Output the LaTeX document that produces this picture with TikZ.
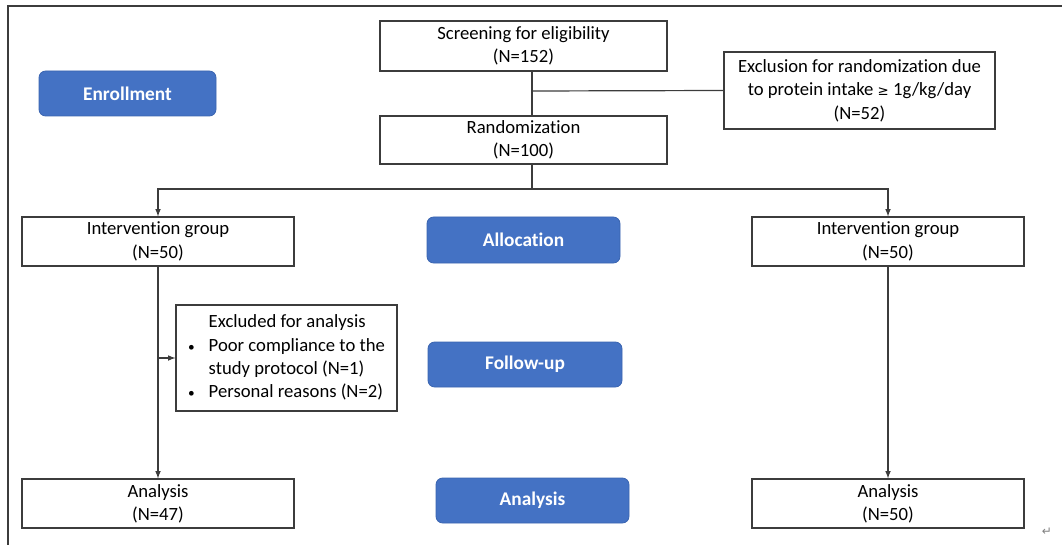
\documentclass[tikz,border=0pt]{standalone}
\usepackage{fontspec}
\setmainfont{Carlito}[Ligatures=NoCommon]
\newfontfamily\symfont{DejaVu Sans}
\usepackage{tikz}

\definecolor{stageblue}{HTML}{4472C4}
\definecolor{stageedge}{HTML}{3A64B0}
\definecolor{linegray}{HTML}{3C3C3C}

\tikzset{
  flowbox/.style={draw=linegray,line width=0.9pt,fill=white,align=center,inner sep=0pt,
    font=\fontsize{14}{17.5}\selectfont},
  stage/.style={draw=stageedge,line width=0.6pt,fill=stageblue,rounded corners=5pt,text=white,
    align=center,inner sep=0pt,font=\fontsize{14.5}{17}\selectfont\bfseries},
  link/.style={draw=linegray,line width=0.9pt},
}
\newcommand{\smallbul}{{\fontsize{10}{10}\selectfont\textbullet}}

\begin{document}
\begin{tikzpicture}[x=0.75pt,y=0.75pt,yscale=-1,xscale=1]
\useasboundingbox (0,0) rectangle (1062,545);

%Frame lines
\draw [linegray,line width=0.8pt] (8,545) -- (8,6) -- (1062,6) ;

%Shape: Rectangle [screening]
\node [flowbox,minimum width=215.25pt,minimum height=37.5pt] (scr) at (523.5,46) {Screening for eligibility\\(N=152)};
%Shape: Rectangle [randomization]
\node [flowbox,minimum width=215.25pt,minimum height=36pt] (rand) at (523.5,140) {Randomization\\(N=100)};
%Shape: Rectangle [exclusion]
\node [flowbox,minimum width=203.25pt,minimum height=57.75pt] (excl) at (859.5,90.5) {Exclusion for randomization due\\to protein intake {\symfont\fontsize{10}{12}\selectfont≥} 1g/kg/day\\(N=52)};
%Shape: Rectangle [groups]
\node [flowbox,minimum width=204pt,minimum height=36.75pt] (intL) at (158,241.5) {Intervention group\\(N=50)};
\node [flowbox,minimum width=204pt,minimum height=36.75pt] (intR) at (888,241.5) {Intervention group\\(N=50)};
%Shape: Rectangle [excluded]
\node [flowbox,minimum width=165.75pt,minimum height=79.5pt] (exA) at (286.5,358) {%
  \begin{tabular}{@{}l@{\hspace{10.5pt}}l@{}}
  & Excluded for analysis\\
  \smallbul & Poor compliance to the\\
  & study protocol (N=1)\\
  \smallbul & Personal reasons (N=2)
  \end{tabular}};
%Shape: Rectangle [analysis]
\node [flowbox,minimum width=204pt,minimum height=36.75pt] (anaL) at (158,503.5) {Analysis\\(N=47)};
\node [flowbox,minimum width=204pt,minimum height=36.75pt] (anaR) at (888,503.5) {Analysis\\(N=50)};

%Shape: Rounded Rect [stages]
\node [stage,minimum width=132.75pt,minimum height=33.75pt] (enrol) at (127.5,93.5) {Enrollment};
\node [stage,minimum width=144.75pt,minimum height=34.5pt] (alloc) at (523.5,240) {Allocation};
\node [stage,minimum width=145.5pt,minimum height=33.75pt] (follow) at (525,364.5) {Follow-up};
\node [stage,minimum width=144.75pt,minimum height=33.75pt] (analy) at (532.5,500.5) {Analysis};

%Junctions
\coordinate (jA) at (532,91) ;
\coordinate (jB) at (532,189) ;

%Straight Lines
\draw [link] (scr.south -| jA) -- (rand.north -| jA) ;
\draw [link] (jA) -- (excl.west) ;
\draw [link] (rand.south -| jB) -- (jB) ;
\draw [link,-latex] (jB) -| (intL.north) ;
\draw [link,-latex] (jB) -| (intR.north) ;
\draw [link,-latex] (intL.south) -- (anaL.north) ;
\draw [link,-latex] (intL.south |- exA.west) -- (exA.west) ;
\draw [link,-latex] (intR.south) -- (anaR.north) ;

% Text Node
\node [text=gray,font=\symfont\fontsize{9}{10}\selectfont] (ret) at (1047,532) {↵};

\end{tikzpicture}
\end{document}
